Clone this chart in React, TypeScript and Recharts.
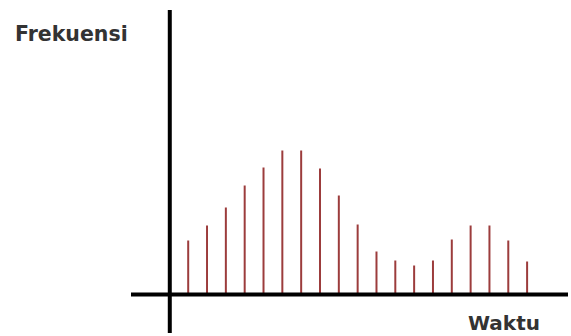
import { ComposedChart, Bar, XAxis, YAxis, ReferenceLine } from 'recharts';

// time steps (x) and frequency heights
const waktu = [1, 2, 3, 4, 5, 6, 7, 8, 9, 10, 11, 12, 13, 14, 15, 16, 17, 18, 19];
const frekuensi = [5.4, 6.9, 8.7, 10.9, 12.7, 14.4, 14.4, 12.6, 9.9, 7.0, 4.3, 3.4, 2.9, 3.4, 5.5, 6.9, 6.9, 5.4, 3.3];

const data = waktu.map((w, i) => ({ waktu: w, frekuensi: frekuensi[i] }));

const W = 571;
const H = 336;

export default function App() {
  return (
    <div style={{ position: 'absolute', left: 0, top: 0, width: W, height: H, background: '#fff' }}>
      <ComposedChart
        width={W}
        height={H}
        data={data}
        margin={{ top: 10, right: 3, bottom: 3, left: 131 }}
      >
        <XAxis dataKey="waktu" type="number" domain={[-2.06, 21.15]} hide />
        <YAxis type="number" domain={[-3.85, 28.45]} hide />
        <Bar dataKey="frekuensi" fill="#9c3c3c" barSize={2} isAnimationActive={false} />
        <ReferenceLine x={0} stroke="#000" strokeWidth={4} />
        <ReferenceLine y={0} stroke="#000" strokeWidth={4} />
        <text x={15} y={41} fontFamily="DejaVu Sans" fontWeight="bold" fontSize={20.5} fill="#333">
          Frekuensi
        </text>
        <text x={468} y={330} fontFamily="DejaVu Sans" fontWeight="bold" fontSize={20} fill="#333">
          Waktu
        </text>
      </ComposedChart>
    </div>
  );
}
